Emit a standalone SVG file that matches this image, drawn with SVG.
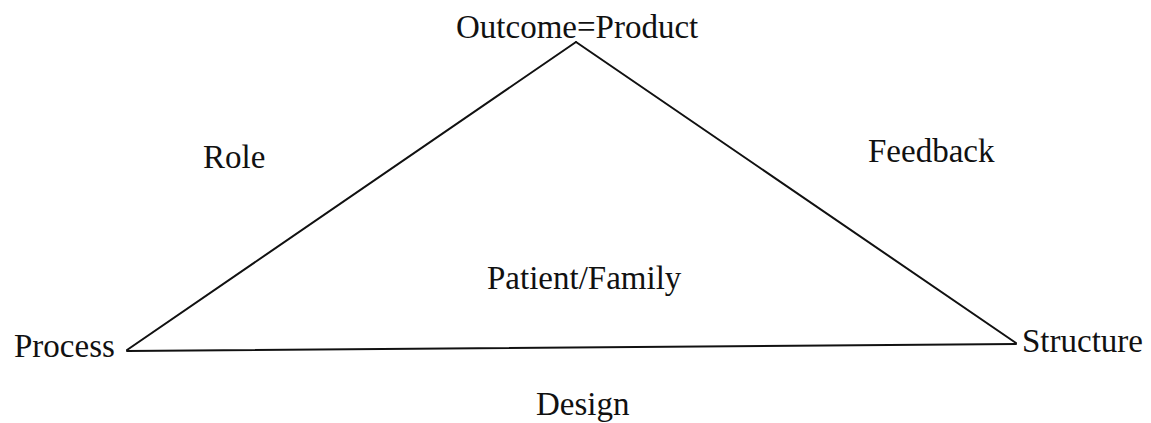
<svg xmlns="http://www.w3.org/2000/svg" width="1151" height="423" viewBox="0 0 1151 423">
<style>
text{font-family:"Liberation Serif","Times New Roman",serif;font-size:33px;fill:#111}
.edge{stroke:#111;stroke-width:2;fill:none;stroke-linecap:round}
</style>
<rect width="1151" height="423" fill="#fff"/>
<g id="connectors">
<line class="edge" x1="576" y1="42" x2="127" y2="350"/>
<line class="edge" x1="576" y1="42" x2="1016" y2="343"/>
<line class="edge" x1="127" y1="351" x2="1016" y2="344"/>
</g>
<g id="outcome"><text x="456" y="38">Outcome=Product</text></g>
<g id="process"><text x="14" y="357">Process</text></g>
<g id="structure"><text x="1022" y="352">Structure</text></g>
<g id="role"><text x="203" y="168">Role</text></g>
<g id="feedback"><text x="868" y="162">Feedback</text></g>
<g id="patient"><text x="487" y="289">Patient/Family</text></g>
<g id="design"><text x="536" y="415">Design</text></g>
</svg>
